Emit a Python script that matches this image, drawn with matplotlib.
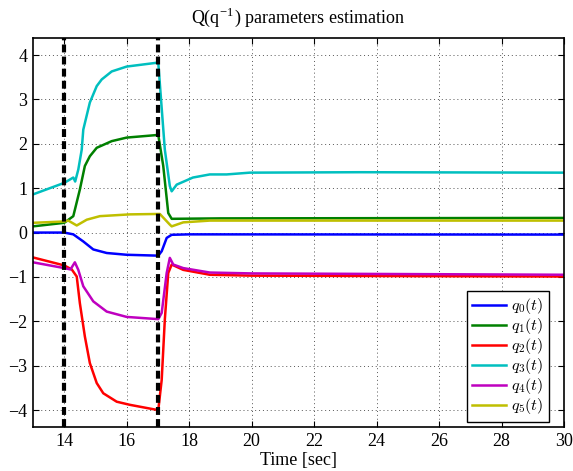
import matplotlib
matplotlib.use("Agg")
import matplotlib.pyplot as plt

plt.rcParams["font.family"] = ["Liberation Serif", "DejaVu Serif"]
plt.rcParams["mathtext.fontset"] = "cm"

# values (time in sec, parameter value)
t_q0 = [13.0, 14.0, 14.29, 14.61, 14.93, 15.36, 16.0, 17.01, 17.12, 17.28, 17.44, 18.0, 30.0]
v_q0 = [0.0, 0.0, -0.04, -0.20, -0.38, -0.46, -0.50, -0.52, -0.42, -0.12, -0.05, -0.04, -0.045]

t_q1 = [13.0, 14.0, 14.29, 14.5, 14.66, 14.82, 15.04, 15.52, 16.0, 17.01, 17.17, 17.33, 17.44, 19.0, 30.0]
v_q1 = [0.14, 0.22, 0.37, 0.97, 1.50, 1.72, 1.91, 2.06, 2.14, 2.20, 1.50, 0.44, 0.31, 0.32, 0.33]

t_q2 = [13.0, 14.0, 14.24, 14.4, 14.5, 14.66, 14.82, 15.04, 15.25, 15.68, 16.1, 17.01,
        17.12, 17.22, 17.33, 17.44, 17.81, 18.66, 20.0, 30.0]
v_q2 = [-0.56, -0.74, -0.83, -0.99, -1.59, -2.34, -2.94, -3.39, -3.62, -3.81, -3.88, -4.0,
        -3.32, -1.96, -0.91, -0.72, -0.84, -0.95, -0.97, -0.99]

t_q3 = [13.0, 14.0, 14.29, 14.35, 14.45, 14.56, 14.61, 14.82, 15.04, 15.2, 15.52, 16.0, 17.01,
        17.22, 17.38, 17.44, 17.6, 18.12, 18.66, 19.2, 19.94, 23.46, 30.0]
v_q3 = [0.86, 1.12, 1.24, 1.15, 1.42, 1.87, 2.32, 2.93, 3.30, 3.45, 3.63, 3.74, 3.83,
        1.87, 1.05, 0.93, 1.08, 1.24, 1.31, 1.31, 1.35, 1.36, 1.35]

t_q4 = [13.0, 14.0, 14.2, 14.34, 14.45, 14.61, 14.93, 15.36, 16.0, 17.01, 17.12, 17.28, 17.38,
        17.49, 17.81, 18.66, 20.0, 30.0]
v_q4 = [-0.67, -0.80, -0.83, -0.67, -0.84, -1.21, -1.55, -1.78, -1.90, -1.95, -1.81, -0.91, -0.57,
        -0.72, -0.80, -0.90, -0.92, -0.95]

t_q5 = [13.0, 14.0, 14.13, 14.4, 14.72, 15.14, 16.1, 17.06, 17.38, 17.44, 17.81, 18.66, 30.0]
v_q5 = [0.22, 0.25, 0.27, 0.16, 0.29, 0.37, 0.41, 0.42, 0.18, 0.14, 0.23, 0.27, 0.27]

series = [
    (t_q0, v_q0, "#0000ff", r"$q_0(t)$"),
    (t_q1, v_q1, "#008000", r"$q_1(t)$"),
    (t_q2, v_q2, "#ff0000", r"$q_2(t)$"),
    (t_q3, v_q3, "#00bfbf", r"$q_3(t)$"),
    (t_q4, v_q4, "#bf00bf", r"$q_4(t)$"),
    (t_q5, v_q5, "#bfbf00", r"$q_5(t)$"),
]
switch_times = [14, 17]

fig = plt.figure(figsize=(5.73, 4.71), dpi=100)
ax = fig.add_axes([0.0576, 0.0934, 0.9267, 0.8256])

for t, v, c, lab in series:
    ax.plot(t, v, color=c, lw=1.8, label=lab)

for st in switch_times:
    ax.axvline(st, color="black", lw=3, dashes=(1.9, 1.0), zorder=3)

ax.set_xlim(13, 30)
ax.set_ylim(-4.38, 4.38)
ax.set_xticks(range(14, 31, 2))
ax.set_yticks(range(-4, 5))
ax.set_yticklabels(["\u2212%d" % -v if v < 0 else str(v) for v in range(-4, 5)])
ax.grid(True, linestyle=(0, (1, 3)), color="#555555", lw=0.7)
ax.tick_params(direction="in", top=True, right=True, length=4, width=0.8,
               labelsize=13, pad=4)
for sp in ax.spines.values():
    sp.set_linewidth(1.2)

ax.set_title(r"Q(q$^{\mathregular{-1}}$) parameters estimation", fontsize=13, pad=11)
ax.set_xlabel("Time [sec]", fontsize=13, labelpad=2)

leg = ax.legend(loc="lower right", bbox_to_anchor=(0.972, 0.013), borderaxespad=0,
                fontsize=11.5, handlelength=2.1, fancybox=False,
                framealpha=1, edgecolor="black",
                labelspacing=0.0, handletextpad=0.35, borderpad=0.35)
leg.get_frame().set_linewidth(1.0)

fig.savefig("out.png", dpi=100)
